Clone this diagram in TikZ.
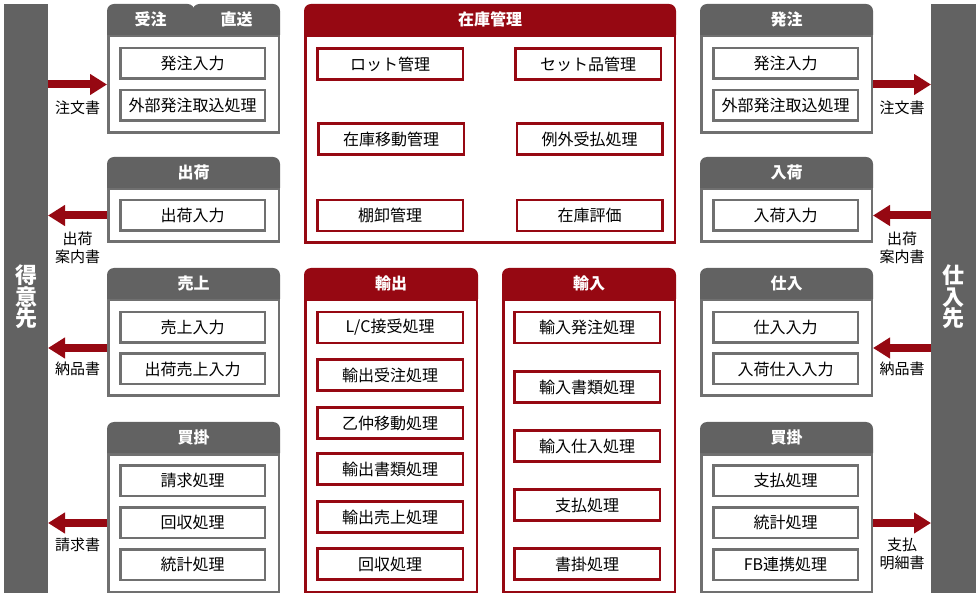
\documentclass[tikz,border=0pt]{standalone}
\usepackage{fontspec}
\setmainfont{Noto Sans CJK JP}
\usetikzlibrary{arrows.meta}
\definecolor{hdgray}{RGB}{98,98,98}
\definecolor{lngray}{RGB}{112,112,112}
\definecolor{hdred}{RGB}{150,8,18}

\begin{document}
\begin{tikzpicture}[x=1pt,y=-1pt,
  bar/.style={fill=hdgray, minimum width=44pt, minimum height=589pt, inner sep=0pt, outer sep=0pt},
  bartext/.style={text=white, font=\fontsize{22}{21.5}\selectfont\bfseries, align=center, inner sep=0pt},
  grpgray/.style={draw=lngray, line width=2.5pt, fill=white, anchor=north west, minimum width=170.5pt, inner sep=0pt},
  grpred/.style={grpgray, draw=hdred},
  hdtext/.style={text=white, font=\fontsize{16}{16}\selectfont\bfseries, inner sep=0pt},
  itemgray/.style={draw=lngray, line width=2.5pt, fill=white, minimum width=144.5pt, minimum height=30.5pt, inner sep=0pt, font=\fontsize{16}{16}\selectfont},
  itemred/.style={itemgray, draw=hdred, minimum width=145.5pt, minimum height=31pt},
  flow/.style={draw=hdred, line width=8pt, -{Triangle[width=20pt,length=17pt]}},
  lbl/.style={font=\fontsize{15}{18}\selectfont, align=center, inner sep=0pt, text=black},
]
\fill[white] (0,0) rectangle (980,601);
\useasboundingbox (0,0) rectangle (980,601);

% side bars
\node (customer) [bar] at (26,298.5) {};
\node (customer-t) [bartext] at (26,297) {得\\意\\先};
\node (supplier) [bar, minimum width=45pt] at (953.5,298.5) {};
\node (supplier-t) [bartext] at (953.5,297) {仕\\入\\先};

% left groups
\node (order) [grpgray, minimum height=96.5pt] at (107,35) {};
\fill[hdgray, rounded corners=7pt] (order.north west) |- ([xshift=1pt,yshift=31pt]order.north) -- ([xshift=1pt]order.north);
\fill[hdgray, rounded corners=7pt] ([xshift=-1pt]order.north) |- ([yshift=31pt]order.north east) -- (order.north east);
\fill[hdgray] ([xshift=-8pt,yshift=24pt]order.north) rectangle ([xshift=8pt]order.north);
\node (order-t1) [hdtext] at ([xshift=-43pt,yshift=15.5pt]order.north) {受注};
\node (order-t2) [hdtext] at ([xshift=43pt,yshift=15.5pt]order.north) {直送};
\node (order-a) [itemgray] at (192.5,63.5) {発注入力};
\node (order-b) [itemgray] at (192.5,105.5) {外部発注取込処理};

\node (ship) [grpgray, minimum height=52.5pt] at (107,188) {};
\fill[hdgray, rounded corners=7pt] (ship.north west) |- ([yshift=31pt]ship.north) -| (ship.north east);
\node (ship-t) [hdtext] at ([yshift=15.5pt]ship.north) {出荷};
\node (ship-a) [itemgray] at (192.5,215.5) {出荷入力};

\node (sales) [grpgray, minimum height=95.5pt] at (107,299) {};
\fill[hdgray, rounded corners=7pt] (sales.north west) |- ([yshift=31pt]sales.north) -| (sales.north east);
\node (sales-t) [hdtext] at ([yshift=15.5pt]sales.north) {売上};
\node (sales-a) [itemgray] at (192.5,327.5) {売上入力};
\node (sales-b) [itemgray] at (192.5,369) {出荷売上入力};

\node (bill) [grpgray, minimum height=137.5pt] at (107,453) {};
\fill[hdgray, rounded corners=7pt] (bill.north west) |- ([yshift=31pt]bill.north) -| (bill.north east);
\node (bill-t) [hdtext] at ([yshift=15.5pt]bill.north) {買掛};
\node (bill-a) [itemgray] at (192.5,480.5) {請求処理};
\node (bill-b) [itemgray] at (192.5,522.5) {回収処理};
\node (bill-c) [itemgray] at (192.5,564.5) {統計処理};

% right groups
\node (purch) [grpgray, minimum height=96.5pt] at (700,35) {};
\fill[hdgray, rounded corners=7pt] (purch.north west) |- ([yshift=31pt]purch.north) -| (purch.north east);
\node (purch-t) [hdtext] at ([yshift=15.5pt]purch.north) {発注};
\node (purch-a) [itemgray] at (785.5,63.5) {発注入力};
\node (purch-b) [itemgray] at (785.5,105.5) {外部発注取込処理};

\node (arriv) [grpgray, minimum height=52.5pt] at (700,188) {};
\fill[hdgray, rounded corners=7pt] (arriv.north west) |- ([yshift=31pt]arriv.north) -| (arriv.north east);
\node (arriv-t) [hdtext] at ([yshift=15.5pt]arriv.north) {入荷};
\node (arriv-a) [itemgray] at (785.5,215.5) {入荷入力};

\node (stockin) [grpgray, minimum height=95.5pt] at (700,299) {};
\fill[hdgray, rounded corners=7pt] (stockin.north west) |- ([yshift=31pt]stockin.north) -| (stockin.north east);
\node (stockin-t) [hdtext] at ([yshift=15.5pt]stockin.north) {仕入};
\node (stockin-a) [itemgray] at (785.5,327.5) {仕入入力};
\node (stockin-b) [itemgray] at (785.5,369) {入荷仕入入力};

\node (pay) [grpgray, minimum height=137.5pt] at (700,453) {};
\fill[hdgray, rounded corners=7pt] (pay.north west) |- ([yshift=31pt]pay.north) -| (pay.north east);
\node (pay-t) [hdtext] at ([yshift=15.5pt]pay.north) {買掛};
\node (pay-a) [itemgray] at (785.5,480.5) {支払処理};
\node (pay-b) [itemgray] at (785.5,522.5) {統計処理};
\node (pay-c) [itemgray] at (785.5,564.5) {FB連携処理};

% center groups
\node (stock) [grpred, minimum width=369.5pt, minimum height=206.5pt] at (304,35) {};
\fill[hdred, rounded corners=7pt] (stock.north west) |- ([yshift=31pt]stock.north) -| (stock.north east);
\node (stock-t) [hdtext] at ([yshift=15.5pt]stock.north) {在庫管理};
\node (stock-a) [itemred] at (390,64) {ロット管理};
\node (stock-b) [itemred] at (588,64) {セット品管理};
\node (stock-c) [itemred] at (391,139) {在庫移動管理};
\node (stock-d) [itemred] at (589.5,139) {例外受払処理};
\node (stock-e) [itemred] at (390,215.5) {棚卸管理};
\node (stock-f) [itemred] at (589.5,215.5) {在庫評価};

\node (export) [grpred, minimum width=171.5pt, minimum height=291.5pt] at (304,299) {};
\fill[hdred, rounded corners=7pt] (export.north west) |- ([yshift=31pt]export.north) -| (export.north east);
\node (export-t) [hdtext] at ([yshift=15.5pt]export.north) {輸出};
\node (export-a) [itemred] at (390,327.5) {L/C接受処理};
\node (export-b) [itemred] at (390,375) {輸出受注処理};
\node (export-c) [itemred] at (390,423) {乙仲移動処理};
\node (export-d) [itemred] at (390,469) {輸出書類処理};
\node (export-e) [itemred] at (390,517) {輸出売上処理};
\node (export-f) [itemred] at (390,564) {回収処理};

\node (import) [grpred, minimum width=171.5pt, minimum height=291.5pt] at (502,299) {};
\fill[hdred, rounded corners=7pt] (import.north west) |- ([yshift=31pt]import.north) -| (import.north east);
\node (import-t) [hdtext] at ([yshift=15.5pt]import.north) {輸入};
\node (import-a) [itemred] at (587,327.5) {輸入発注処理};
\node (import-b) [itemred] at (587,387) {輸入書類処理};
\node (import-c) [itemred] at (587,446) {輸入仕入処理};
\node (import-d) [itemred] at (587,505) {支払処理};
\node (import-e) [itemred] at (587,564) {書掛処理};

% documents
\draw[flow] (customer.east |- order.west) -- (order.west)
  node (doc-order) [lbl, midway, yshift=-23pt] {注文書};
\draw[flow] (ship.west) -- (customer.east |- ship.west)
  node (doc-ship) [lbl, midway, yshift=-32pt] {出荷\\案内書};
\draw[flow] (sales.west) -- (customer.east |- sales.west)
  node (doc-sales) [lbl, midway, yshift=-21pt] {納品書};
\draw[flow] (bill.west) -- (customer.east |- bill.west)
  node (doc-bill) [lbl, midway, yshift=-22pt] {請求書};
\draw[flow] (purch.east) -- (supplier.west |- purch.east)
  node (doc-purch) [lbl, midway, yshift=-23pt] {注文書};
\draw[flow] (supplier.west |- arriv.east) -- (arriv.east)
  node (doc-arriv) [lbl, midway, yshift=-32pt] {出荷\\案内書};
\draw[flow] (supplier.west |- stockin.east) -- (stockin.east)
  node (doc-stockin) [lbl, midway, yshift=-21pt] {納品書};
\draw[flow] (pay.east) -- (supplier.west |- pay.east)
  node (doc-pay) [lbl, midway, yshift=-31pt] {支払\\明細書};
\end{tikzpicture}
\end{document}
